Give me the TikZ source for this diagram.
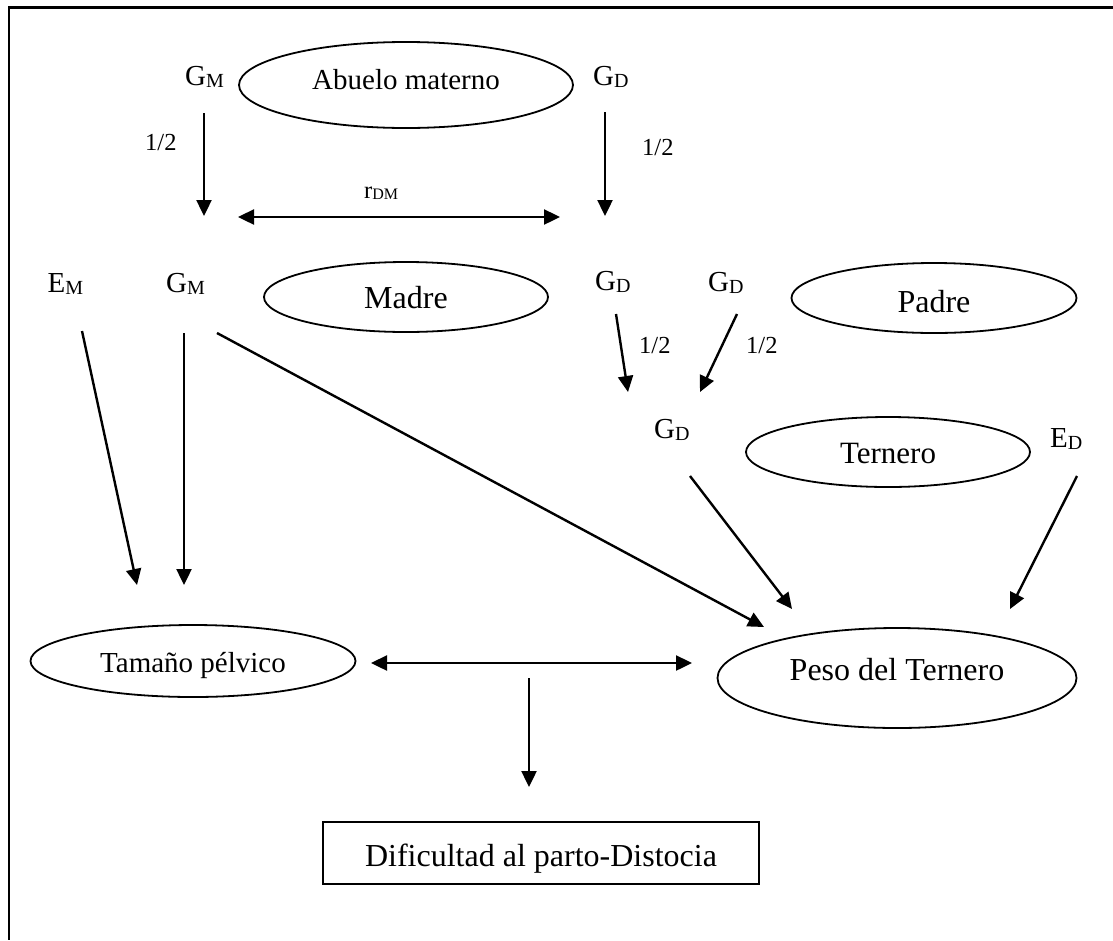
\documentclass[tikz,border=0pt]{standalone}
\usepackage{fontspec}
\setmainfont{Liberation Serif}
\usetikzlibrary{arrows.meta,shapes.geometric}
\newcommand{\lowsub}[1]{\raisebox{-2pt}{\fontsize{20}{20}\selectfont #1}}
\newcommand{\lowsubs}[1]{\raisebox{-1pt}{\fontsize{16}{16}\selectfont #1}}
\begin{document}
\begin{tikzpicture}[x=1pt,y=-1pt,
  ell/.style={draw, ellipse, line width=1.8pt, inner sep=0pt, text depth=4pt},
  lab/.style={anchor=base west, inner sep=0pt, font=\fontsize{29}{29}\selectfont},
  half/.style={anchor=base west, inner sep=0pt, font=\fontsize{24.5}{24.5}\selectfont},
  arr/.style={-{Triangle[length=16pt,width=15pt]}, line width=2.4pt},
  darr/.style={{Triangle[length=16pt,width=15pt]}-{Triangle[length=16pt,width=15pt]}, line width=2.4pt},
  boxst/.style={draw, rectangle, line width=1.8pt, inner sep=0pt}]
\useasboundingbox (0,0) rectangle (1113,940);
% frame (top and left only)
\draw[line width=2.8pt] (1113,7.5) -- (9,7.5) -- (9,940);

% ellipses
\node[ell, minimum width=334pt, minimum height=86pt, text height=12pt, font=\fontsize{29}{29}\selectfont] (abuelo) at (406,85) {Abuelo materno};
\node[ell, minimum width=284pt, minimum height=70pt, text height=26pt, font=\fontsize{32}{32}\selectfont] (madre) at (406,297) {Madre};
\node[ell, minimum width=285pt, minimum height=70pt, text height=32pt, font=\fontsize{32}{32}\selectfont] (padre) at (934,298) {Padre};
\node[ell, minimum width=284pt, minimum height=70pt, text height=26pt, font=\fontsize{31}{31}\selectfont] (ternero) at (888,452) {Ternero};
\node[ell, minimum width=325pt, minimum height=72pt, text height=26pt, font=\fontsize{29}{29}\selectfont] (tamano) at (193,661) {Tamaño pélvico};
\node[ell, minimum width=359pt, minimum height=100pt, text height=8pt, font=\fontsize{32}{32}\selectfont] (peso) at (897,678) {Peso del Ternero};
\node[boxst, minimum width=436pt, minimum height=62pt, text height=30pt, text depth=4pt, font=\fontsize{32}{32}\selectfont] (dist) at (541,853) {Dificultad al parto-Distocia};

% labels
\node[lab] (gm1) at (185,85) {G\lowsub{M}};
\node[lab] (gd1) at (593,85) {G\lowsub{D}};
\node[half] (h1) at (145,150) {1/2};
\node[half] (h2) at (642,155) {1/2};
\node[half] (rdm) at (364,198) {r\lowsubs{DM}};
\node[lab] (em) at (47.5,292) {E\lowsub{M}};
\node[lab] (gm2) at (166,292) {G\lowsub{M}};
\node[lab] (gd2) at (595,290) {G\lowsub{D}};
\node[lab] (gd3) at (708,291) {G\lowsub{D}};
\node[half] (h3) at (639,353) {1/2};
\node[half] (h4) at (746,353) {1/2};
\node[lab] (gd4) at (654,438) {G\lowsub{D}};
\node[lab] (ed) at (1050,447) {E\lowsub{D}};

% connector end points
\coordinate (a1s) at (204,113);  \coordinate (a1e) at (204,216);
\coordinate (a2s) at (605,112);  \coordinate (a2e) at (605,216);
\coordinate (a3s) at (238,217);  \coordinate (a3e) at (560,217);
\coordinate (a4s) at (616,314);  \coordinate (a4e) at (628,392);
\coordinate (a5s) at (737,314);  \coordinate (a5e) at (700,392);
\coordinate (a6s) at (82,331);   \coordinate (a6e) at (137,585);
\coordinate (a7s) at (184,333);  \coordinate (a7e) at (184,585);
\coordinate (a8s) at (217,333);  \coordinate (a8e) at (764,627);
\coordinate (a9s) at (690,476);  \coordinate (a9e) at (792,609);
\coordinate (a10s) at (1077,476); \coordinate (a10e) at (1010,609);
\coordinate (a11s) at (371,663); \coordinate (a11e) at (692,663);
\coordinate (a12s) at (529,678); \coordinate (a12e) at (529,787);

\draw[arr] (a1s) -- (a1e);
\draw[arr] (a2s) -- (a2e);
\draw[darr] (a3s) -- (a3e);
\draw[arr] (a4s) -- (a4e);
\draw[arr] (a5s) -- (a5e);
\draw[arr] (a6s) -- (a6e);
\draw[arr] (a7s) -- (a7e);
\draw[arr] (a8s) -- (a8e);
\draw[arr] (a9s) -- (a9e);
\draw[arr] (a10s) -- (a10e);
\draw[darr] (a11s) -- (a11e);
\draw[arr] (a12s) -- (a12e);
\end{tikzpicture}
\end{document}
